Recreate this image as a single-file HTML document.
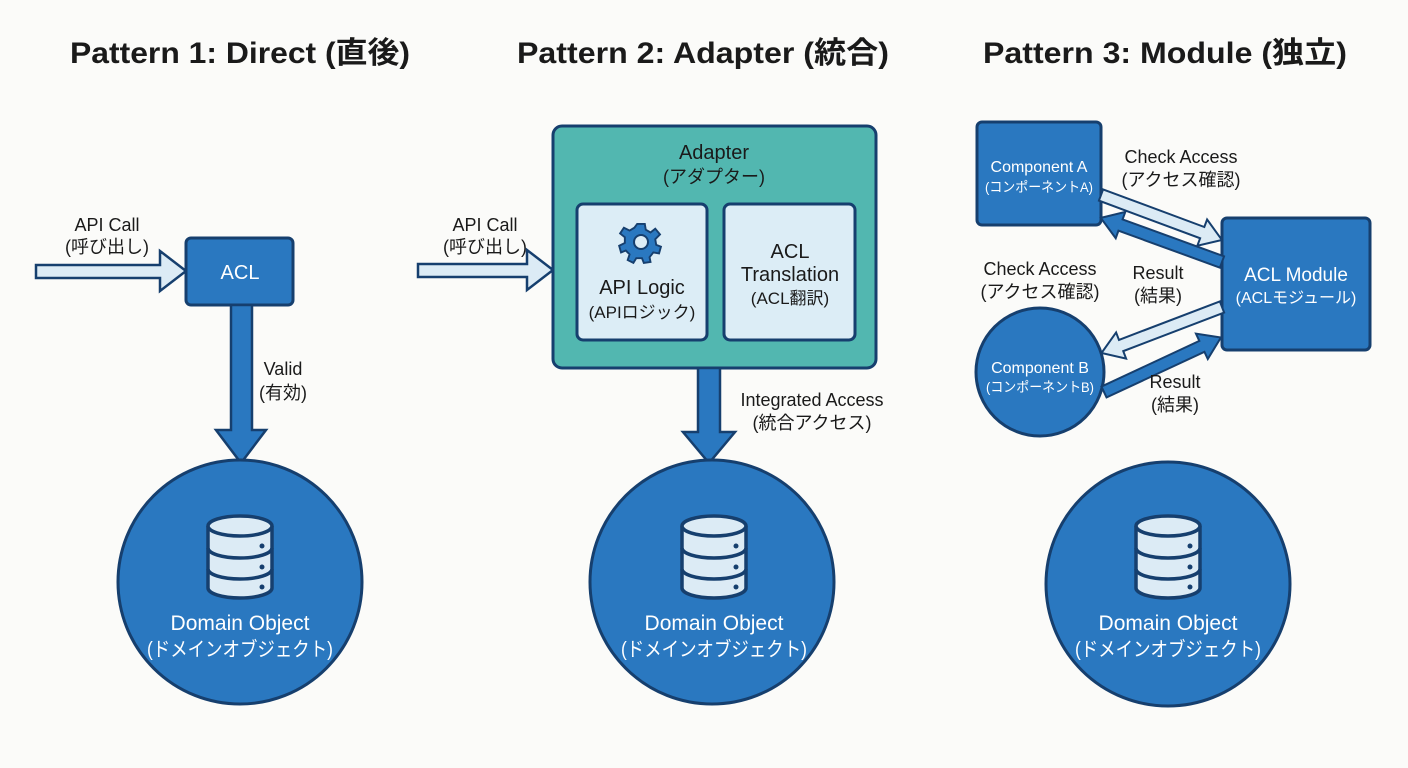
<!DOCTYPE html>
<html><head><meta charset="utf-8"><style>
html,body{margin:0;padding:0;background:#fbfbf9;}
svg{display:block;}
text{font-family:"Liberation Sans","Noto Sans CJK JP",sans-serif;}
.t{font-size:30px;font-weight:bold;fill:#1a1a1a;}
.l{font-size:18px;fill:#1a1a1a;}
.w{fill:#fff;}
</style></head><body>
<svg width="1408" height="768" viewBox="0 0 1408 768" xmlns="http://www.w3.org/2000/svg">
<defs>
<g id="db">
<path d="M-32,10 V72 A32,10 0 0 0 32,72 V10" fill="#dcebf5" stroke="#163f6e" stroke-width="3.5"/>
<ellipse cx="0" cy="10" rx="32" ry="10" fill="#dcebf5" stroke="#163f6e" stroke-width="3.5"/>
<path d="M-32,32 A32,10 0 0 0 32,32 M-32,53 A32,10 0 0 0 32,53" fill="none" stroke="#163f6e" stroke-width="3.5"/>
<circle cx="22" cy="30" r="2.5" fill="#163f6e"/><circle cx="22" cy="51" r="2.5" fill="#163f6e"/><circle cx="22" cy="71" r="2.5" fill="#163f6e"/>
</g>
<path id="la" d="M0,-6 H108 V-14 L129,0 L108,14 V6 H0 Z"/>
</defs>
<rect width="1408" height="768" fill="#fbfbf9"/>
<!-- titles -->
<text class="t" x="240" y="63" text-anchor="middle" textLength="340" lengthAdjust="spacingAndGlyphs">Pattern 1: Direct (直後)</text>
<text class="t" x="703" y="63" text-anchor="middle" textLength="372" lengthAdjust="spacingAndGlyphs">Pattern 2: Adapter (統合)</text>
<text class="t" x="1165" y="63" text-anchor="middle" textLength="364" lengthAdjust="spacingAndGlyphs">Pattern 3: Module (独立)</text>

<!-- Pattern 1 -->
<text class="l" x="107" y="231" text-anchor="middle">API Call</text>
<text class="l" x="107" y="253" text-anchor="middle">(呼び出し)</text>
<path d="M36,265 H160 V251 L186,271 L160,291 V278 H36 Z" fill="#dcebf5" stroke="#163f6e" stroke-width="2.5"/>
<rect x="186" y="238" width="107" height="67" rx="5" fill="#2a78c0" stroke="#163f6e" stroke-width="3"/>
<text class="w" x="240" y="279" text-anchor="middle" font-size="20">ACL</text>
<path d="M231,305 V430 H216 L241,463 L266,430 H252 V305 Z" fill="#2a78c0" stroke="#163f6e" stroke-width="2.5"/>
<text class="l" x="283" y="375" text-anchor="middle">Valid</text>
<text class="l" x="283" y="399" text-anchor="middle">(有効)</text>
<circle cx="240" cy="582" r="122" fill="#2a78c0" stroke="#163f6e" stroke-width="3"/>
<use href="#db" x="240" y="516"/>
<text class="w" x="240" y="630" text-anchor="middle" font-size="21">Domain Object</text>
<text class="w" x="240" y="656" text-anchor="middle" font-size="20" textLength="186" lengthAdjust="spacingAndGlyphs">(ドメインオブジェクト)</text>

<!-- Pattern 2 -->
<text class="l" x="485" y="231" text-anchor="middle">API Call</text>
<text class="l" x="485" y="253" text-anchor="middle">(呼び出し)</text>
<path d="M418,264 H527 V250 L553,270 L527,290 V277 H418 Z" fill="#dcebf5" stroke="#163f6e" stroke-width="2.5"/>
<rect x="553" y="126" width="323" height="242" rx="9" fill="#52b7b0" stroke="#163f6e" stroke-width="3"/>
<text x="714" y="159" text-anchor="middle" font-size="20" fill="#1a1a1a">Adapter</text>
<text x="714" y="183" text-anchor="middle" font-size="18" fill="#1a1a1a">(アダプター)</text>
<rect x="577" y="204" width="130" height="136" rx="6" fill="#dcedf6" stroke="#163f6e" stroke-width="3"/>
<rect x="724" y="204" width="131" height="136" rx="6" fill="#dcedf6" stroke="#163f6e" stroke-width="3"/>
<g transform="translate(641,242)" fill="#2a78c0" stroke="#163f6e" stroke-width="2">
<path d="M-4,-19 H4 L5,-13 L10,-10 L15,-14 L20,-8 L15,-3 L16,3 L21,5 L19,12 L13,11 L9,16 L10,21 L3,22 L1,17 L-5,17 L-8,22 L-14,19 L-12,13 L-16,9 L-21,11 L-23,4 L-17,1 L-17,-5 L-22,-9 L-18,-15 L-12,-12 L-7,-15 Z" transform="scale(0.95)"/>
<circle r="7" fill="#dcedf6"/>
</g>
<text x="642" y="294" text-anchor="middle" font-size="20" fill="#1a1a1a">API Logic</text>
<text x="642" y="318" text-anchor="middle" font-size="17" fill="#1a1a1a">(APIロジック)</text>
<text x="790" y="258" text-anchor="middle" font-size="20" fill="#1a1a1a">ACL</text>
<text x="790" y="281" text-anchor="middle" font-size="20" fill="#1a1a1a">Translation</text>
<text x="790" y="304" text-anchor="middle" font-size="17" fill="#1a1a1a">(ACL翻訳)</text>
<path d="M698,368 V432 H683 L709,463 L735,432 H720 V368 Z" fill="#2a78c0" stroke="#163f6e" stroke-width="2.5"/>
<text class="l" x="812" y="406" text-anchor="middle">Integrated Access</text>
<text class="l" x="812" y="429" text-anchor="middle">(統合アクセス)</text>
<circle cx="712" cy="582" r="122" fill="#2a78c0" stroke="#163f6e" stroke-width="3"/>
<use href="#db" x="714" y="516"/>
<text class="w" x="714" y="630" text-anchor="middle" font-size="21">Domain Object</text>
<text class="w" x="714" y="656" text-anchor="middle" font-size="20" textLength="186" lengthAdjust="spacingAndGlyphs">(ドメインオブジェクト)</text>

<!-- Pattern 3 -->
<rect x="977" y="122" width="124" height="103" rx="5" fill="#2a78c0" stroke="#163f6e" stroke-width="3"/>
<text class="w" x="1039" y="172" text-anchor="middle" font-size="16">Component A</text>
<text class="w" x="1039" y="192" text-anchor="middle" font-size="14" textLength="108" lengthAdjust="spacingAndGlyphs">(コンポーネントA)</text>
<rect x="1222" y="218" width="148" height="132" rx="5" fill="#2a78c0" stroke="#163f6e" stroke-width="3"/>
<text class="w" x="1296" y="281" text-anchor="middle" font-size="19">ACL Module</text>
<text class="w" x="1296" y="303" text-anchor="middle" font-size="16">(ACLモジュール)</text>
<circle cx="1040" cy="372" r="64" fill="#2a78c0" stroke="#163f6e" stroke-width="3"/>
<text class="w" x="1040" y="373" text-anchor="middle" font-size="16">Component B</text>
<text class="w" x="1040" y="392" text-anchor="middle" font-size="14" textLength="108" lengthAdjust="spacingAndGlyphs">(コンポーネントB)</text>
<use href="#la" transform="translate(1101,195) rotate(20.4)" fill="#dcebf5" stroke="#163f6e" stroke-width="2"/>
<use href="#la" transform="translate(1222,262) rotate(200)" fill="#2a78c0" stroke="#163f6e" stroke-width="2"/>
<use href="#la" transform="translate(1222,307) rotate(159.1)" fill="#dcebf5" stroke="#163f6e" stroke-width="2"/>
<use href="#la" transform="translate(1104,392) rotate(-25)" fill="#2a78c0" stroke="#163f6e" stroke-width="2"/>
<text class="l" x="1181" y="163" text-anchor="middle">Check Access</text>
<text class="l" x="1181" y="186" text-anchor="middle">(アクセス確認)</text>
<text class="l" x="1040" y="275" text-anchor="middle">Check Access</text>
<text class="l" x="1040" y="298" text-anchor="middle">(アクセス確認)</text>
<text class="l" x="1158" y="279" text-anchor="middle">Result</text>
<text class="l" x="1158" y="302" text-anchor="middle">(結果)</text>
<text class="l" x="1175" y="388" text-anchor="middle">Result</text>
<text class="l" x="1175" y="411" text-anchor="middle">(結果)</text>
<circle cx="1168" cy="584" r="122" fill="#2a78c0" stroke="#163f6e" stroke-width="3"/>
<use href="#db" x="1168" y="516"/>
<text class="w" x="1168" y="630" text-anchor="middle" font-size="21">Domain Object</text>
<text class="w" x="1168" y="656" text-anchor="middle" font-size="20" textLength="186" lengthAdjust="spacingAndGlyphs">(ドメインオブジェクト)</text>
</svg>
</body></html>
